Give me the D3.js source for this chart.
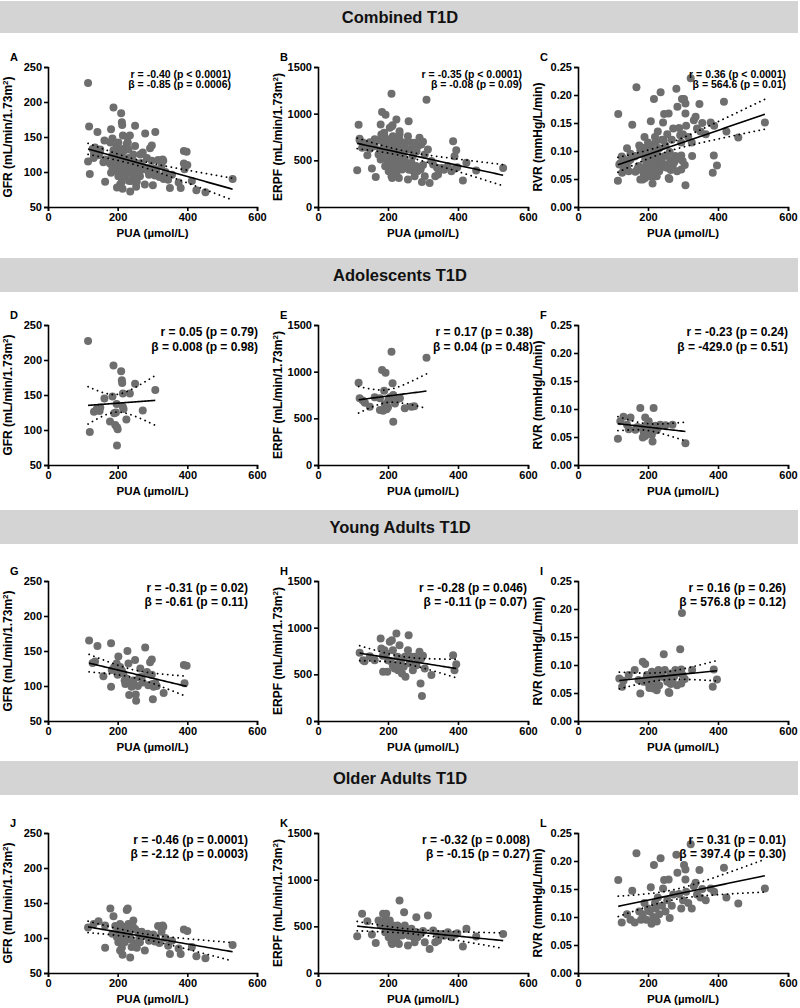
<!DOCTYPE html>
<html><head><meta charset="utf-8">
<script src="https://cdn.jsdelivr.net/npm/d3@7"></script>
<style>body{margin:0;background:#fff;} svg{display:block;font-family:"Liberation Sans",Arial,sans-serif;}</style>
</head><body><svg id="c" width="800" height="1008"></svg>
<script>
// ---------- text / tick data ----------
const sections = ["Combined T1D", "Adolescents T1D", "Young Adults T1D", "Older Adults T1D"];
const panelLetters = [["A","B","C"],["D","E","F"],["G","H","I"],["J","K","L"]];
const xTicks = [0, 200, 400, 600];
const gfrTicks = [50, 100, 150, 200, 250];
const erpfTicks = [0, 500, 1000, 1500];
const rvrTicks = [0, 0.05, 0.10, 0.15, 0.20, 0.25];
const xTitle = "PUA (\u00b5mol/L)";
const rLines = [
  ["r = -0.40 (p < 0.0001)", "r = -0.35 (p < 0.0001)", "r = 0.36 (p < 0.0001)"],
  ["r = 0.05 (p = 0.79)", "r = 0.17 (p = 0.38)", "r = -0.23 (p = 0.24)"],
  ["r = -0.31 (p = 0.02)", "r = -0.28 (p = 0.046)", "r = 0.16 (p = 0.26)"],
  ["r = -0.46 (p = 0.0001)", "r = -0.32 (p = 0.008)", "r = 0.31 (p = 0.01)"]
];
const betaLines = [
  ["\u03b2 = -0.85 (p = 0.0006)", "\u03b2 = -0.08 (p = 0.09)", "\u03b2 = 564.6 (p = 0.01)"],
  ["\u03b2 = 0.008 (p = 0.98)", "\u03b2 = 0.04 (p = 0.48)", "\u03b2 = -429.0 (p = 0.51)"],
  ["\u03b2 = -0.61 (p = 0.11)", "\u03b2 = -0.11 (p = 0.07)", "\u03b2 = 576.8 (p = 0.12)"],
  ["\u03b2 = -2.12 (p = 0.0003)", "\u03b2 = -0.15 (p = 0.27)", "\u03b2 = 397.4 (p = 0.30)"]
];

// ---------- point data [PUA, value] ----------
const adolGFR = [[115,227],[120,97],[132,126],[140,130],[148,127],[150,132],[162,145],[178,112],[185,148],[188,192],[190,124],[193,107],[195,125],[197,137],[198,104],[200,101],[198,78],[210,184],[212,171],[213,167],[215,152],[215,133],[217,130],[225,115],[235,152],[250,166],[272,128],[308,157]];
const adolERPF = [[116,882],[119,714],[128,690],[134,668],[148,625],[162,725],[177,589],[177,714],[183,1018],[189,796],[191,650],[193,989],[196,596],[201,696],[206,725],[210,1214],[213,875],[215,750],[215,464],[220,660],[224,696],[234,714],[248,607],[267,625],[275,630],[310,1150],[186,580],[200,620]];
const adolRVR = [[114,0.047],[121,0.078],[130,0.086],[145,0.064],[150,0.085],[164,0.063],[178,0.102],[181,0.066],[185,0.049],[192,0.085],[192,0.052],[197,0.072],[202,0.062],[202,0.078],[211,0.054],[213,0.042],[216,0.102],[221,0.070],[225,0.062],[235,0.072],[250,0.071],[270,0.072],[307,0.039],[188,0.058],[230,0.068],[140,0.072],[207,0.066],[170,0.068]];

const youngGFR = [[118,165],[142,157],[135,135],[128,133],[159,114],[181,161],[181,99],[183,123],[190,127],[197,132],[202,142],[200,116],[205,120],[207,127],[212,122],[216,118],[220,108],[222,103],[224,111],[228,150],[231,132],[233,87],[236,104],[240,99],[243,103],[245,108],[250,137],[252,88],[253,79],[258,100],[262,112],[265,125],[269,113],[272,105],[279,155],[284,120],[288,101],[293,134],[298,138],[298,116],[300,103],[301,81],[303,99],[308,104],[312,100],[332,90],[390,130],[398,129],[392,104]];
const youngERPF = [[119,730],[129,652],[133,641],[148,695],[162,652],[179,883],[181,777],[186,527],[190,759],[195,723],[198,527],[200,652],[205,848],[211,866],[214,759],[214,588],[219,563],[224,937],[227,688],[229,545],[233,812],[233,616],[238,652],[240,509],[248,688],[250,474],[257,759],[259,919],[262,616],[267,688],[271,545],[276,688],[281,598],[290,741],[293,403],[295,670],[297,267],[305,563],[324,492],[386,705],[390,545],[395,609],[185,700],[208,640],[222,600],[245,580],[285,650],[300,700]];
const youngRVR = [[118,0.076],[126,0.061],[130,0.072],[145,0.082],[162,0.091],[173,0.073],[178,0.049],[185,0.106],[187,0.070],[192,0.102],[197,0.082],[200,0.068],[204,0.059],[211,0.088],[215,0.058],[221,0.072],[226,0.082],[230,0.091],[232,0.064],[240,0.079],[245,0.119],[248,0.091],[251,0.076],[259,0.052],[261,0.050],[264,0.085],[270,0.073],[278,0.091],[283,0.064],[292,0.128],[297,0.193],[295,0.067],[295,0.092],[299,0.082],[326,0.091],[385,0.061],[388,0.092],[397,0.074],[208,0.078],[218,0.065],[236,0.085],[255,0.070],[275,0.080],[288,0.086],[305,0.075],[195,0.076],[225,0.055],[265,0.066]];

const olderGFR = [[115,115],[131,120],[145,124],[164,118],[164,86],[179,142],[188,131],[193,117],[198,101],[202,94],[207,120],[207,82],[210,111],[212,86],[214,76],[217,104],[220,94],[223,116],[226,140],[229,142],[231,120],[233,104],[236,72],[240,87],[245,125],[250,113],[253,92],[255,86],[259,109],[264,94],[269,109],[278,82],[286,106],[302,105],[307,95],[316,117],[326,109],[329,118],[331,116],[337,100],[345,89],[350,77],[356,96],[375,85],[381,77],[390,112],[400,110],[413,87],[426,74],[452,71],[530,90],[200,108],[215,100],[225,112],[238,98],[243,117],[262,100],[275,104],[290,96],[310,101],[185,106],[205,98],[235,110],[320,93]];
const olderERPF = [[112,394],[126,634],[141,555],[154,412],[165,322],[173,562],[179,508],[186,634],[189,526],[192,437],[195,634],[198,498],[202,383],[205,562],[208,455],[210,329],[212,311],[214,508],[217,419],[219,473],[224,365],[227,508],[229,412],[231,311],[233,777],[238,473],[240,401],[246,652],[248,508],[252,437],[257,294],[267,473],[271,390],[276,329],[281,598],[284,383],[293,419],[305,329],[314,616],[319,258],[329,455],[335,329],[343,347],[354,419],[371,437],[381,383],[392,412],[398,426],[414,283],[424,473],[452,390],[529,419],[200,470],[222,430],[236,440],[260,400],[300,450],[340,420],[360,400],[230,480],[245,420],[280,440],[210,400],[190,560]];
const olderRVR = [[115,0.166],[125,0.090],[140,0.105],[150,0.095],[155,0.147],[162,0.090],[167,0.214],[175,0.110],[180,0.095],[185,0.105],[190,0.125],[195,0.095],[200,0.115],[205,0.110],[208,0.153],[210,0.088],[215,0.100],[217,0.193],[220,0.125],[222,0.115],[225,0.092],[228,0.135],[232,0.105],[236,0.205],[240,0.120],[243,0.151],[246,0.166],[250,0.110],[255,0.130],[259,0.167],[262,0.098],[268,0.120],[272,0.140],[281,0.211],[284,0.179],[289,0.141],[295,0.115],[300,0.130],[303,0.193],[307,0.185],[307,0.167],[309,0.145],[315,0.125],[322,0.230],[325,0.115],[331,0.155],[336,0.161],[340,0.140],[347,0.184],[350,0.135],[355,0.150],[365,0.130],[379,0.151],[389,0.145],[417,0.188],[424,0.135],[458,0.124],[534,0.151]];

// Combined cohort = union of the three age groups
const combGFR = adolGFR.concat(youngGFR, olderGFR);
const combERPF = adolERPF.concat(youngERPF, olderERPF);
const combRVR = adolRVR.concat(youngRVR, olderRVR);

const panelData = [
  [combGFR, combERPF, combRVR],
  [adolGFR, adolERPF, adolRVR],
  [youngGFR, youngERPF, youngRVR],
  [olderGFR, olderERPF, olderRVR]
];

// ---------- layout ----------
const svg = d3.select("#c");
const colLeft = [48, 318, 578];
const colW = [209, 210, 210];
const rowTop = [67, 325, 581, 833];
const plotH = 140;
const bands = [[1, 33], [258, 292], [510, 544], [761, 795]];
const annotSize = [10.5, 12, 12, 12];
const annotGap = [10, 15, 14, 14];
const annotRight = [[231, 522, 786], [258, 533, 788], [248, 527, 786], [248, 530, 786]];
const measures = [
  {ticks: gfrTicks, domain: [50, 250], fmt: d3.format("d"), title: ["GFR (mL/min/1.73m", "2", ")"]},
  {ticks: erpfTicks, domain: [0, 1500], fmt: d3.format("d"), title: ["ERPF (mL/min/1.73m", "2", ")"]},
  {ticks: rvrTicks, domain: [0, 0.25], fmt: d3.format(".2f"), title: ["RVR (mmHg/L/min)", "", ""]}
];

// section bands
bands.forEach((b, i) => {
  svg.append("rect").attr("x", 0).attr("y", b[0]).attr("width", 798).attr("height", b[1] - b[0]).attr("fill", "#d4d4d4");
  svg.append("text").attr("x", 400).attr("y", (b[0] + b[1]) / 2 + 6).attr("text-anchor", "middle")
    .attr("font-size", 16.5).attr("font-weight", "bold").attr("fill", "#111").text(sections[i]);
});

function tQuant(df) {
  const z = 1.959964;
  return z + (z ** 3 + z) / (4 * df) + (5 * z ** 5 + 16 * z ** 3 + 3 * z) / (96 * df * df);
}

function regression(pts) {
  const n = pts.length;
  const mx = d3.mean(pts, d => d[0]), my = d3.mean(pts, d => d[1]);
  let sxx = 0, sxy = 0;
  pts.forEach(d => { sxx += (d[0] - mx) ** 2; sxy += (d[0] - mx) * (d[1] - my); });
  const b = sxy / sxx, a = my - b * mx;
  let sse = 0;
  pts.forEach(d => { sse += (d[1] - (a + b * d[0])) ** 2; });
  const s = Math.sqrt(sse / (n - 2));
  const t = tQuant(n - 2);
  const [x0, x1] = d3.extent(pts, d => d[0]);
  const xs = d3.range(0, 41).map(i => x0 + (x1 - x0) * i / 40);
  return xs.map(xv => {
    const yh = a + b * xv;
    const h = t * s * Math.sqrt(1 / n + (xv - mx) ** 2 / sxx);
    return {x: xv, y: yh, lo: yh - h, hi: yh + h};
  });
}

for (let r = 0; r < 4; r++) {
  for (let c = 0; c < 3; c++) {
    const m = measures[c];
    const left = colLeft[c], top = rowTop[r], w = colW[c];
    const x = d3.scaleLinear().domain([0, 600]).range([left, left + w]);
    const y = d3.scaleLinear().domain(m.domain).range([top + plotH, top]);
    const g = svg.append("g");

    // panel letter
    g.append("text").attr("x", left - 38).attr("y", top - 6)
      .attr("font-size", 11).attr("font-weight", "bold").text(panelLetters[r][c]);

    // axes
    const yAxis = d3.axisLeft(y).tickValues(m.ticks).tickFormat(m.fmt).tickSize(4).tickPadding(2);
    const xAxis = d3.axisBottom(x).tickValues(xTicks).tickFormat(d3.format("d")).tickSize(4).tickPadding(2);
    const ya = g.append("g").attr("transform", `translate(${left},0)`).call(yAxis);
    const xa = g.append("g").attr("transform", `translate(0,${top + plotH})`).call(xAxis);
    [ya, xa].forEach(a => {
      a.selectAll("path").attr("stroke", "#000").attr("stroke-width", 1.6);
      a.selectAll("line").attr("stroke", "#000").attr("stroke-width", 1.6);
      a.selectAll("text").attr("font-size", 11).attr("font-weight", "bold").attr("fill", "#000")
        .attr("font-family", "Liberation Sans, Arial, sans-serif");
    });

    // axis titles
    g.append("text").attr("x", left + w / 2).attr("y", top + plotH + 30)
      .attr("text-anchor", "middle").attr("font-size", 11.5).attr("font-weight", "bold").text(xTitle);
    const yt = g.append("text").attr("transform", `translate(${left - 36},${top + plotH / 2}) rotate(-90)`)
      .attr("text-anchor", "middle").attr("font-size", 12).attr("font-weight", "bold");
    yt.append("tspan").text(m.title[0]);
    if (m.title[1]) {
      yt.append("tspan").attr("font-size", 8).attr("dy", -4.5).text(m.title[1]);
      yt.append("tspan").attr("dy", 4.5).text(m.title[2]);
    }

    // points
    const pts = panelData[r][c];
    g.append("g").selectAll("circle").data(pts).join("circle")
      .attr("cx", d => x(d[0])).attr("cy", d => y(d[1])).attr("r", 4).attr("fill", "#6e6e6e");

    // regression + CI
    const band = regression(pts);
    const line = key => d3.line().x(d => x(d.x)).y(d => y(d[key]));
    g.append("path").datum(band).attr("d", line("y")).attr("fill", "none").attr("stroke", "#000").attr("stroke-width", 1.6);
    ["lo", "hi"].forEach(k => {
      g.append("path").datum(band).attr("d", line(k)).attr("fill", "none").attr("stroke", "#000")
        .attr("stroke-width", 1.8).attr("stroke-linecap", "round").attr("stroke-dasharray", "0.1 5");
    });

    // annotations
    const ax = annotRight[r][c];
    const ay = top + 11;
    g.append("text").attr("x", ax).attr("y", ay).attr("text-anchor", "end")
      .attr("font-size", annotSize[r]).attr("font-weight", "bold").text(rLines[r][c]);
    g.append("text").attr("x", ax).attr("y", ay + annotGap[r]).attr("text-anchor", "end")
      .attr("font-size", annotSize[r]).attr("font-weight", "bold").text(betaLines[r][c]);
  }
}
</script></body></html>
